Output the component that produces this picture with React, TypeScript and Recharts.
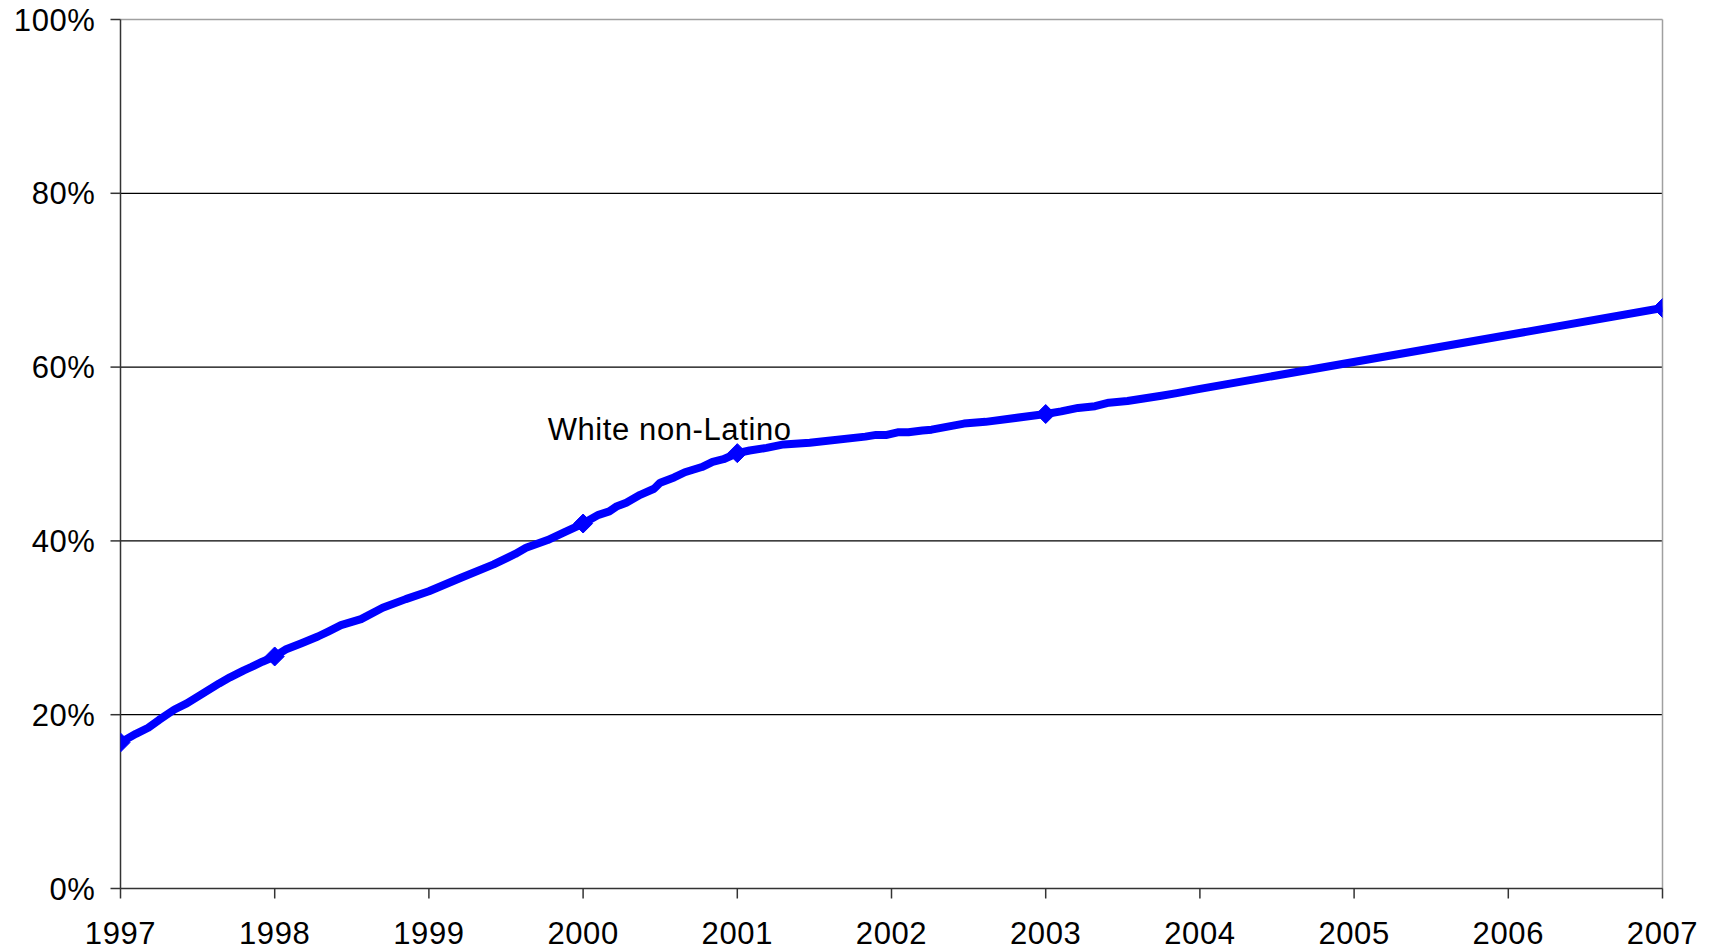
import React from "react";
import {
  LineChart,
  Line,
  XAxis,
  YAxis,
  CartesianGrid,
  ReferenceLine,
  ReferenceDot,
} from "recharts";

const years: number[] = [
  1997.0, 1997.1, 1997.18, 1997.25, 1997.35, 1997.43, 1997.53, 1997.64, 1997.71, 1997.8,
  1997.85, 1997.92, 1998.0, 1998.07, 1998.17, 1998.28, 1998.35, 1998.43, 1998.56, 1998.7,
  1998.85, 1999.0, 1999.2, 1999.42, 1999.56, 1999.63, 1999.77, 1999.88, 2000.0, 2000.1,
  2000.17, 2000.22, 2000.28, 2000.37, 2000.46, 2000.5, 2000.59, 2000.66, 2000.77, 2000.84,
  2000.91, 2001.0, 2001.08, 2001.19, 2001.3, 2001.47, 2001.83, 2001.9, 2001.97, 2002.04,
  2002.11, 2002.2, 2002.26, 2002.47, 2002.61, 2003.0, 2003.1, 2003.21, 2003.32, 2003.41,
  2003.53, 2003.75, 2003.85, 2004.0, 2007.0,
];

const whiteNonLatino: number[] = [
  16.8, 17.8, 18.5, 19.4, 20.6, 21.3, 22.4, 23.6, 24.3, 25.1,
  25.5, 26.1, 26.7, 27.5, 28.2, 29.0, 29.6, 30.3, 31.0, 32.3,
  33.3, 34.2, 35.7, 37.3, 38.5, 39.2, 40.1, 41.0, 42.0, 43.0,
  43.4, 44.0, 44.4, 45.3, 46.0, 46.7, 47.3, 47.9, 48.5, 49.1,
  49.4, 50.1, 50.4, 50.7, 51.1, 51.3, 52.0, 52.2, 52.2, 52.5,
  52.5, 52.7, 52.8, 53.5, 53.7, 54.6, 54.9, 55.3, 55.5, 55.9,
  56.1, 56.7, 57.0, 57.5, 66.8,
];

const markerYears: number[] = [1997, 1998, 2000, 2001, 2003, 2007];

const xTicks: number[] = [1997, 1998, 1999, 2000, 2001, 2002, 2003, 2004, 2005, 2006, 2007];
const yTicks: number[] = [0, 20, 40, 60, 80, 100];

const seriesLabel = "White non-Latino";
const labelAt = { year: 1999.77, value: 51.6 };

const data = years.map((y, i) => ({ year: y, value: whiteNonLatino[i] }));

const FONT = "'Liberation Sans', Arial, sans-serif";
const tickStyle = { fontSize: 31, fill: "#000", fontFamily: FONT, letterSpacing: 0.6 };

const Diamond = (props: any) => {
  const { cx, cy, payload } = props;
  if (!markerYears.includes(payload.year) || cx == null || cy == null) {
    return <g key={`d-${payload.year}`} />;
  }
  const s = 9.5;
  return (
    <path
      key={`d-${payload.year}`}
      d={`M${cx},${cy - s} L${cx + s},${cy} L${cx},${cy + s} L${cx - s},${cy} Z`}
      fill="#0000FF"
      stroke="#0000FF"
      strokeWidth={1}
    />
  );
};

const SeriesLabel = (props: any) => {
  const { viewBox } = props;
  return (
    <text
      x={viewBox.x}
      y={viewBox.y}
      textAnchor="start"
      fontSize={31}
      letterSpacing={0.6}
      fontFamily={FONT}
      fill="#000"
    >
      {seriesLabel}
    </text>
  );
};

export default function App() {
  return (
    <div style={{ position: "absolute", left: 0, top: 0, width: 1717, height: 950, background: "#fff" }}>
      <LineChart
        width={1717}
        height={950}
        data={data}
        margin={{ top: 19.5, right: 54.5, left: 0, bottom: 0 }}
      >
        <CartesianGrid
          vertical={false}
          horizontalValues={yTicks.filter((v) => v !== 100)}
          stroke="#000"
          strokeWidth={1.2}
        />
        <XAxis
          dataKey="year"
          type="number"
          domain={[1997, 2007]}
          ticks={xTicks}
          interval={0}
          height={61.5}
          tickSize={10}
          tickMargin={23}
          axisLine={{ stroke: "#333", strokeWidth: 1.5 }}
          tickLine={{ stroke: "#333", strokeWidth: 1.5 }}
          tick={tickStyle}
          allowDataOverflow
        />
        <YAxis
          type="number"
          domain={[0, 100]}
          ticks={yTicks}
          interval={0}
          width={120.5}
          tickSize={10}
          tickMargin={15}
          tickFormatter={(v: number) => `${v}%`}
          axisLine={{ stroke: "#333", strokeWidth: 1.5 }}
          tickLine={{ stroke: "#333", strokeWidth: 1.5 }}
          tick={tickStyle}
        />
        <ReferenceLine y={100} stroke="#a0a0a0" strokeWidth={1.5} />
        <ReferenceLine x={2007} stroke="#a0a0a0" strokeWidth={1.5} />
        <Line
          type="linear"
          dataKey="value"
          stroke="#0000FF"
          strokeWidth={8}
          strokeLinejoin="round"
          dot={Diamond}
          activeDot={false}
          isAnimationActive={false}
        />
        <ReferenceDot
          x={labelAt.year}
          y={labelAt.value}
          r={0}
          fill="none"
          stroke="none"
          label={<SeriesLabel />}
        />
      </LineChart>
    </div>
  );
}
